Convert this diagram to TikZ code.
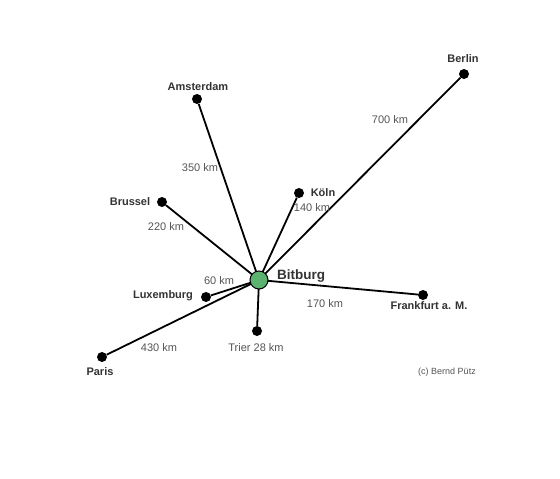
\documentclass[tikz,border=0pt]{standalone}
\usepackage{fontspec}
\setmainfont{Liberation Sans}
\definecolor{cGreen}{HTML}{5BB36F}
\definecolor{cLabel}{HTML}{333333}
\definecolor{cDist}{HTML}{555555}

\begin{document}
\begin{tikzpicture}[x=1pt,y=-1pt,
  every node/.style={inner sep=0pt},
  city/.style={circle, fill=black, minimum size=10pt},
  placelabel/.style={font=\fontsize{11}{13}\selectfont\bfseries, text=cLabel},
  distlabel/.style={font=\fontsize{11}{13}\selectfont, text=cDist},
  road/.style={line width=1.8pt},
]

\fill[white] (0,0) rectangle (560,479);

\coordinate (hub) at (259,280);
\node[city] (ams) at (197,99) {};
\node[city] (ber) at (464,74) {};
\node[city] (kol) at (299,193) {};
\node[city] (bru) at (162,202) {};
\node[city] (lux) at (206,297) {};
\node[city] (par) at (102,357) {};
\node[city] (tri) at (257,331) {};
\node[city] (fra) at (423,295) {};

\draw[road] (hub) -- (ams);
\draw[road] (hub) -- (ber);
\draw[road] (hub) -- (kol);
\draw[road] (hub) -- (bru);
\draw[road] (hub) -- (lux);
\draw[road] (hub) -- (par);
\draw[road] (hub) -- (tri);
\draw[road] (hub) -- (fra);

\node[circle, fill=cGreen, draw=black, line width=1pt, minimum size=18pt] (bit) at (hub) {};

% place names
\node[placelabel, font=\fontsize{13.5}{16}\selectfont\bfseries] (nbit) at (301,276) {Bitburg};
\node[placelabel] (nams) at (198,87) {Amsterdam};
\node[placelabel] (nber) at (463,59) {Berlin};
\node[placelabel] (nkol) at (323,193) {Köln};
\node[placelabel] (nbru) at (130,202) {Brussel};
\node[placelabel] (nlux) at (163,296) {Luxemburg};
\node[placelabel] (npar) at (100,372) {Paris};
\node[placelabel] (nfra) at (429,306) {Frankfurt a. M.};

% distances
\node[distlabel] (dber) at (390,120) {700 km};
\node[distlabel] (dams) at (200,168) {350 km};
\node[distlabel] (dkol) at (312,208) {140 km};
\node[distlabel] (dbru) at (166,227) {220 km};
\node[distlabel] (dlux) at (219,281) {60 km};
\node[distlabel] (dpar) at (159,348) {430 km};
\node[distlabel] (dfra) at (325,304) {170 km};
\node[distlabel] (dtri) at (256,348) {Trier 28 km};

\node[distlabel, font=\fontsize{9}{11}\selectfont] (copy) at (447,372) {(c) Bernd Pütz};

\end{tikzpicture}
\end{document}
